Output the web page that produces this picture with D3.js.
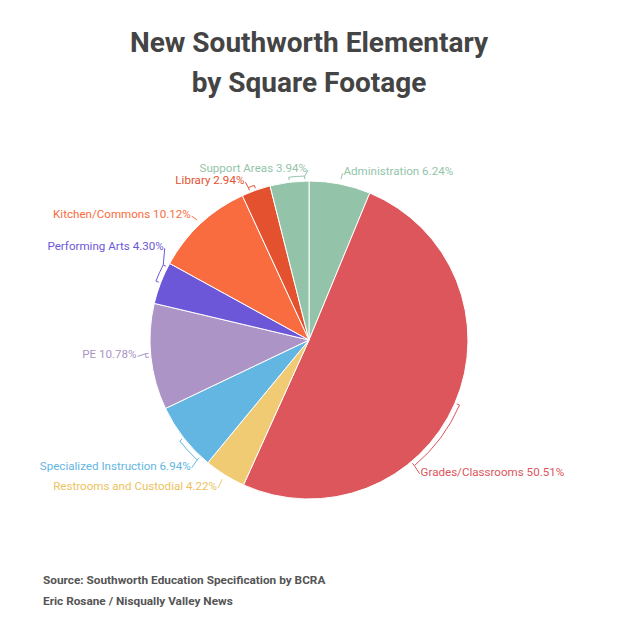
<!DOCTYPE html>
<html>
<head>
<meta charset="utf-8">
<script src="https://cdn.jsdelivr.net/npm/d3@7"></script>
<style>
  body { margin: 0; background: #fff; }
  svg { font-family: Roboto, "Noto Sans", sans-serif; }
</style>
</head>
<body>
<div id="chart"></div>
<script>
const categories = [
  "Administration", "Grades/Classrooms", "Restrooms and Custodial",
  "Specialized Instruction", "PE", "Performing Arts",
  "Kitchen/Commons", "Library", "Support Areas"
];
const shares = [6.24, 50.51, 4.22, 6.94, 10.78, 4.30, 10.12, 2.94, 3.94];
const colors = [
  "#93c4aa", "#dc565c", "#f0cb74", "#63b6e2", "#ac95c6",
  "#6c57d9", "#f96c40", "#e3512f", "#93c4aa"
];
const titleLines = ["New Southworth Elementary", "by Square Footage"];
const notes = [
  "Source: Southworth Education Specification by BCRA",
  "Eric Rosane / Nisqually Valley News"
];

const width = 618, height = 622;
const cx = 309, cy = 340, r = 159;
const deg = Math.PI / 180;

// label angles that were nudged away from the slice middle to avoid overlaps
const labelAngleFix = {
  "Grades/Classrooms": 140,
  "Performing Arts": 303,
  "Specialized Instruction": 223,
  "Library": 338.3,
  "Support Areas": 359.7,
  "PE": 265.2
};

const svg = d3.select("#chart").append("svg")
  .attr("width", width)
  .attr("height", height);

svg.append("g").selectAll("text")
  .data(titleLines)
  .join("text")
  .attr("x", width / 2)
  .attr("y", (d, i) => 52 + i * 40)
  .attr("text-anchor", "middle")
  .attr("font-size", 28)
  .attr("font-weight", 700)
  .attr("fill", "#444")
  .text(d => d);

const data = categories.map((c, i) => ({ name: c, value: shares[i], color: colors[i] }));

const pie = d3.pie().sort(null).value(d => d.value);
const arcs = pie(data);
const arc = d3.arc().innerRadius(0).outerRadius(r);

const g = svg.append("g").attr("transform", `translate(${cx},${cy})`);

g.selectAll("path.slice")
  .data(arcs)
  .join("path")
  .attr("class", "slice")
  .attr("d", arc)
  .attr("fill", d => d.data.color)
  .attr("stroke", "#fff")
  .attr("stroke-width", 1);

// point on a circle, angle in degrees clockwise from top
const pt = (a, rad) => [rad * Math.sin(a * deg), -rad * Math.cos(a * deg)];

const lab = g.append("g");
arcs.forEach(d => {
  const a0 = d.startAngle / deg, a1 = d.endAngle / deg;
  const mid = (a0 + a1) / 2;
  const la = labelAngleFix[d.data.name] !== undefined ? labelAngleFix[d.data.name] : mid;
  const lo = Math.max(Math.min(mid, la), a0 + 1.5);
  const hi = Math.min(Math.max(mid, la), a1 - 1.5);
  const rb = r + 5;
  const near = Math.max(lo, Math.min(hi, la));

  // bracket along the rim from slice middle toward the label
  let path = "";
  if (hi - lo > 1) {
    const s = pt(lo, r + 2), s2 = pt(lo, rb), e2 = pt(hi, rb), e = pt(hi, r + 2);
    path += `M${s}L${s2}A${rb},${rb} 0 0 1 ${e2}L${e}`;
  }
  const right = la > 0.5 && la < 180;
  const tp = pt(la, 172);
  const b = pt(near, rb);
  path += `M${b}L${[tp[0], tp[1] + 2]}`;

  lab.append("path")
    .attr("d", path)
    .attr("fill", "none")
    .attr("stroke", d.data.color)
    .attr("stroke-width", 1);

  lab.append("text")
    .attr("x", tp[0] + (right ? 1 : -1))
    .attr("y", tp[1])
    .attr("dy", "0.35em")
    .attr("text-anchor", right ? "start" : "end")
    .attr("font-size", 11.6)
    .attr("fill", d.data.color === "#f0cb74" ? "#ecc262" : d.data.color)
    .text(`${d.data.name} ${d.data.value.toFixed(2)}%`);
});

svg.append("g").selectAll("text")
  .data(notes)
  .join("text")
  .attr("x", 43)
  .attr("y", (d, i) => 584 + i * 21)
  .attr("font-size", 11.8)
  .attr("font-weight", 700)
  .attr("fill", "#555")
  .text(d => d);
</script>
</body>
</html>
